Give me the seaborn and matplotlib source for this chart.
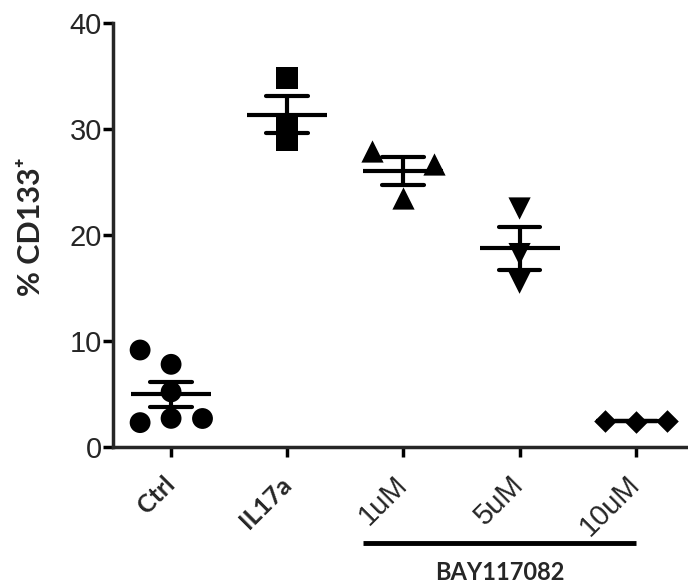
import pandas as pd
import seaborn as sns
import matplotlib.pyplot as plt

# groups on the x axis
groups = ['Ctrl', 'IL17a', '1uM', '5uM', '10uM']

# % CD133+ per replicate
ctrl = [9.15, 7.8, 5.2, 2.3, 2.7, 2.7]
il17a = [34.8, 30.3, 29.0]
bay_1um = [27.9, 26.7, 23.5]
bay_5um = [22.5, 18.2, 15.5]
bay_10um = [2.5, 2.4, 2.5]

# column of the point inside its group (prism spreads overlapping points)
ctrl_col = ['L', 'C', 'C', 'L', 'C', 'R']
il17a_col = ['C', 'C', 'C']
bay_1um_col = ['L', 'R', 'C']
bay_5um_col = ['C', 'C', 'C']
bay_10um_col = ['L', 'C', 'R']

parts = []
for g, vals, cols in zip(groups,
                         [ctrl, il17a, bay_1um, bay_5um, bay_10um],
                         [ctrl_col, il17a_col, bay_1um_col, bay_5um_col, bay_10um_col]):
    parts.append(pd.DataFrame({'group': g, 'value': vals, 'col': cols}))
df = pd.concat(parts, ignore_index=True)

sns.set_style('ticks')
plt.rcParams['font.family'] = ['Liberation Sans', 'DejaVu Sans']

fig = plt.figure(figsize=(6.88, 5.84), dpi=100)
ax = fig.add_axes([113 / 688, 137 / 584, 575 / 688, 424 / 584])

# marker and size per group
marker_style = {'Ctrl': ('o', 15), 'IL17a': ('s', 16), '1uM': ('^', 16),
                '5uM': ('v', 16), '10uM': ('D', 11.5)}
black = {'L': 'black', 'C': 'black', 'R': 'black'}

for g in groups:
    m, s = marker_style[g]
    sns.stripplot(data=df[df['group'] == g], x='group', y='value', order=groups,
                  hue='col', hue_order=['L', 'C', 'R'], dodge=True, jitter=False,
                  palette=black, marker=m, size=s, linewidth=0, legend=False,
                  ax=ax, zorder=3)

# mean +/- SEM
sns.pointplot(data=df, x='group', y='value', order=groups, errorbar='se',
              capsize=0.36, linestyle='none', marker='_', markersize=58,
              markeredgewidth=3, color='black', err_kws={'linewidth': 3},
              ax=ax, zorder=4)
for ln in ax.lines:
    ln.set_solid_capstyle('round')

ax.set_xlim(-0.5, 4.45)
ax.set_ylim(0, 40)
ax.set_yticks([0, 10, 20, 30, 40])
ax.set_xticks(range(len(groups)))
ax.set_xticklabels(groups)
ax.set_xlabel('')

sns.despine(ax=ax)
for sp in ['left', 'bottom']:
    ax.spines[sp].set_linewidth(2.5)
ax.tick_params(axis='both', width=2.5, length=7, color='black')
ax.tick_params(axis='y', labelsize=21, pad=1)
ax.tick_params(axis='x', pad=17)

for lab in ax.get_xticklabels():
    if lab.get_text() in ('Ctrl', 'IL17a'):
        lab.set_fontfamily('Lato')
        lab.set_fontweight('bold')
        lab.set_fontsize(18)
    else:
        lab.set_fontsize(21)
    lab.set_rotation(45)
    lab.set_ha('right')
    lab.set_va('center')
    lab.set_rotation_mode('anchor')

ax.set_ylabel('% CD133\u207a', family=['Lato', 'DejaVu Sans'], fontweight='bold',
              fontsize=22)
ax.yaxis.set_label_coords(-0.118, 0.52)

# bracket for the BAY117082 doses
trans = ax.get_xaxis_transform()
ax.plot([groups.index('1uM') - 0.35, groups.index('10uM')], [-0.226, -0.226],
        transform=trans, clip_on=False, color='black', lw=3.5,
        solid_capstyle='butt')
ax.text(2.83, -0.296, 'BAY117082', transform=trans, ha='center', va='center',
        family='Lato', fontweight='bold', fontsize=17)

fig.savefig('out.png', dpi=100)
